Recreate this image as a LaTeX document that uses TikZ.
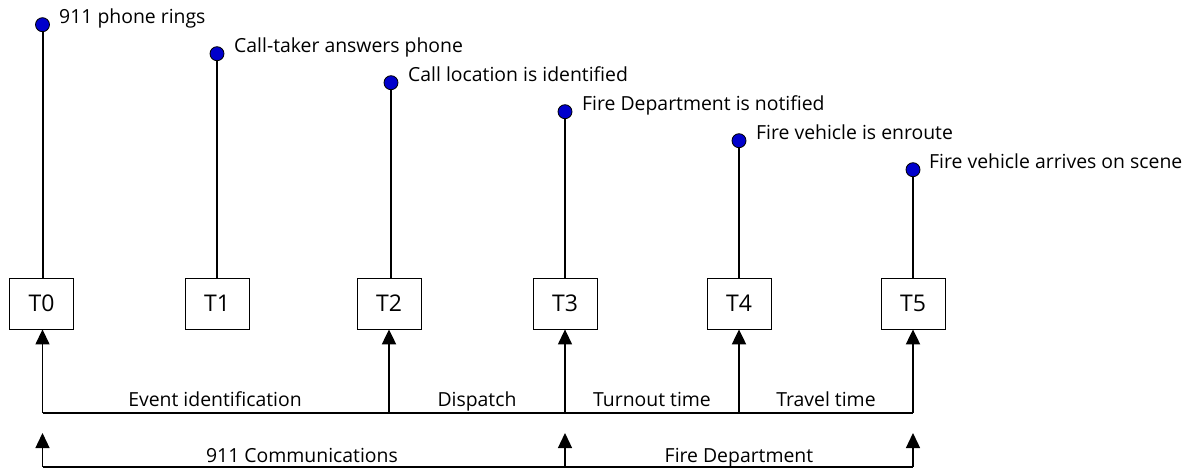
\documentclass[tikz,border=0pt]{standalone}
\usepackage{fontspec}
\setmainfont{Open Sans}
\usetikzlibrary{arrows.meta}
\definecolor{dotblue}{RGB}{0,0,204}
\tikzset{
  evdot/.style={circle,draw=black,fill=dotblue,line width=0.8pt,minimum size=14pt,inner sep=0pt},
  evlabel/.style={anchor=base west,inner sep=0pt,font=\fontsize{19.4}{21}\selectfont},
  tbox/.style={draw=black,line width=0.8pt,minimum width=64pt,minimum height=51pt,inner sep=0pt,font=\fontsize{23}{25}\selectfont},
  stem/.style={line width=2pt},
  stemthin/.style={line width=1.1pt},
  upar/.style={-{Triangle[length=15pt,width=14pt]},line width=1.3pt},
  uparthick/.style={-{Triangle[length=15pt,width=14pt]},line width=2pt},
  baseline/.style={line width=2pt},
  seglabel/.style={anchor=base,inner sep=0pt,font=\fontsize{19.4}{21}\selectfont}
}
\begin{document}
\begin{tikzpicture}[x=1pt,y=-1pt]
\useasboundingbox (0,0) rectangle (1187,468);
% boxes
\node[tbox] (t0) at (41.5,303.5) {T0};
\node[tbox] (t1) at (217,303.5) {T1};
\node[tbox] (t2) at (389,303.5) {T2};
\node[tbox] (t3) at (565,303.5) {T3};
\node[tbox] (t4) at (739,303.5) {T4};
\node[tbox] (t5) at (913,303.5) {T5};
% dots
\node[evdot] (d0) at (42.5,24.7) {};
\node[evdot] (d1) at (217,53.7) {};
\node[evdot] (d2) at (391,82.7) {};
\node[evdot] (d3) at (565,111.7) {};
\node[evdot] (d4) at (739,140.7) {};
\node[evdot] (d5) at (913,169.7) {};
% labels
\node[evlabel] (l0) at (59,23.3) {911 phone rings};
\node[evlabel] (l1) at (234,52.3) {Call-taker answers phone};
\node[evlabel] (l2) at (408,81.3) {Call location is identified};
\node[evlabel] (l3) at (582,110.3) {Fire Department is notified};
\node[evlabel] (l4) at (756,139.3) {Fire vehicle is enroute};
\node[evlabel] (l5) at (929,168.3) {Fire vehicle arrives on scene};
% stems
\draw[stem] (d0) -- (d0 |- t0.north);
\draw[stem] (d1) -- (d1 |- t1.north);
\draw[stem] (d2) -- (d2 |- t2.north);
\draw[stem] (d3) -- (d3 |- t3.north);
\draw[stemthin] (d4) -- (d4 |- t4.north);
\draw[stemthin] (d5) -- (d5 |- t5.north);
% first bottom line
\coordinate (a0) at (42.5,413);
\coordinate (a2) at (389,413);
\coordinate (a3) at (565,413);
\coordinate (a4) at (739,413);
\coordinate (a5) at (913,413);
\draw[baseline] (a0) -- (a5);
\draw[upar] (a0) -- (a0 |- t0.south);
\draw[uparthick] (a2) -- (a2 |- t2.south);
\draw[upar] (a3) -- (a3 |- t3.south);
\draw[uparthick] (a4) -- (a4 |- t4.south);
\draw[uparthick] (a5) -- (a5 |- t5.south);
\node[seglabel] (s1) at (215,406.5) {Event identification};
\node[seglabel] (s2) at (477,406.5) {Dispatch};
\node[seglabel] (s3) at (652,406.5) {Turnout time};
\node[seglabel] (s4) at (826,406.5) {Travel time};
% second bottom line
\coordinate (b0) at (42.5,466.8);
\coordinate (b3) at (565,466.8);
\coordinate (b5) at (913,466.8);
\coordinate (c0) at (42.5,433);
\coordinate (c3) at (565,433);
\coordinate (c5) at (913,433);
\draw[baseline] (b0) -- (b5);
\draw[upar] (b0) -- (c0);
\draw[upar] (b3) -- (c3);
\draw[upar] (b5) -- (c5);
\node[seglabel] (g1) at (302,462.5) {911 Communications};
\node[seglabel] (g2) at (739,462.5) {Fire Department};
\end{tikzpicture}
\end{document}
